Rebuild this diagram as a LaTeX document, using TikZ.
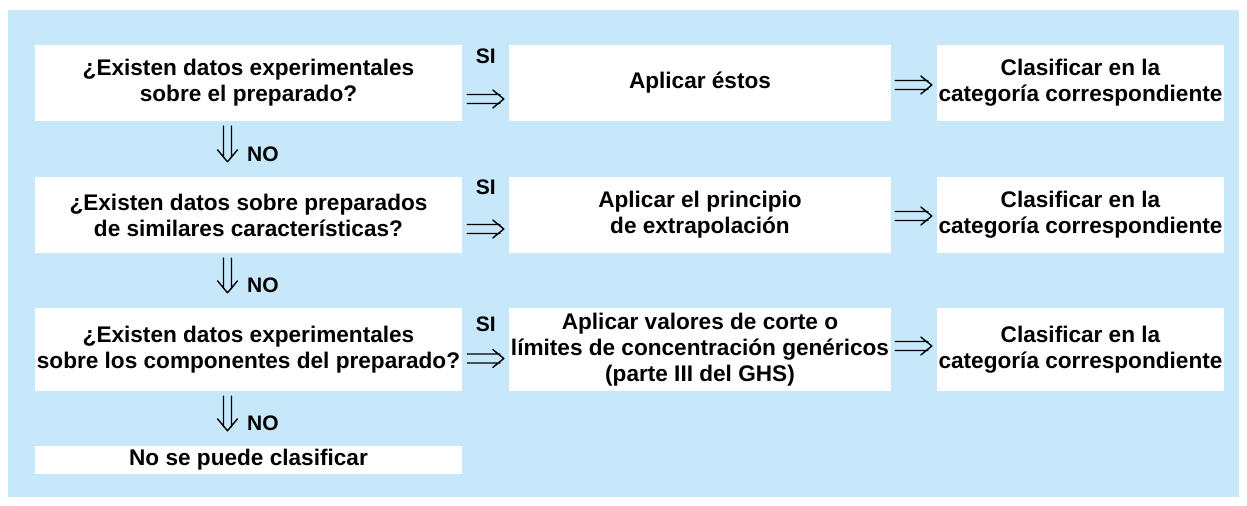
\documentclass[tikz,border=0pt]{standalone}
\usepackage{fontspec}
\setmainfont{Liberation Sans}
\usetikzlibrary{calc}
\definecolor{bgblue}{RGB}{198,232,250}
\tikzset{
  box/.style={fill=white, draw=none, inner sep=0pt, align=center,
    font=\bfseries\fontsize{22.6bp}{26bp}\selectfont},
  lbl/.style={inner sep=0pt, font=\bfseries\fontsize{21bp}{24bp}\selectfont},
  hdbl/.style={line width=1.4bp, line cap=round, line join=round,
    to path={($(\tikztostart)+(0,-4.5bp)$) -- ($(\tikztotarget)+(-4bp,-4.5bp)$)
             ($(\tikztostart)+(0,4.5bp)$) -- ($(\tikztotarget)+(-4bp,4.5bp)$)
             ($(\tikztotarget)+(-11bp,9bp)$) -- (\tikztotarget) -- ($(\tikztotarget)+(-11bp,-9bp)$)}},
  vdbl/.style={line width=1.4bp, line cap=round, line join=round,
    to path={($(\tikztostart)+(-4bp,0)$) -- ($(\tikztotarget)+(-4bp,4bp)$)
             ($(\tikztostart)+(4bp,0)$) -- ($(\tikztotarget)+(4bp,4bp)$)
             ($(\tikztotarget)+(-10bp,12bp)$) -- (\tikztotarget) -- ($(\tikztotarget)+(10bp,12bp)$)}}
}
\begin{document}
\begin{tikzpicture}[x=1bp,y=-1bp]
\useasboundingbox (0,0) rectangle (1247,506);
\fill[bgblue] (8,10) rectangle (1239,497);
% left column
\node[box, minimum width=427bp, minimum height=76bp] (L1) at (248.5,83) {¿Existen datos experimentales\\sobre el preparado?};
\node[box, minimum width=427bp, minimum height=76bp] (L2) at (248.5,215) {¿Existen datos sobre preparados\\de similares características?};
\node[box, minimum width=427bp, minimum height=83bp] (L3) at (248.5,349.5) {¿Existen datos experimentales\\sobre los componentes del preparado?};
\node[box, minimum width=427bp, minimum height=28bp] (L4) at (248.5,460) {No se puede clasificar};
% middle column
\node[box, minimum width=382bp, minimum height=76bp] (M1) at (700,83) {Aplicar éstos};
\node[box, minimum width=382bp, minimum height=76bp] (M2) at (700,215) {Aplicar el principio\\de extrapolación};
\node[box, minimum width=382bp, minimum height=83bp] (M3) at (700,349.5) {Aplicar valores de corte o\\límites de concentración genéricos\\(parte III del GHS)};
% right column
\node[box, minimum width=287bp, minimum height=76bp] (R1) at (1080.5,83) {Clasificar en la\\categoría correspondiente};
\node[box, minimum width=287bp, minimum height=76bp] (R2) at (1080.5,215) {Clasificar en la\\categoría correspondiente};
\node[box, minimum width=287bp, minimum height=83bp] (R3) at (1080.5,349.5) {Clasificar en la\\categoría correspondiente};
% SI labels
\node[lbl, anchor=base] (si1) at ([xshift=23.5bp,yshift=-19bp]L1.north east) {SI};
\node[lbl, anchor=base] (si2) at ([xshift=23.5bp,yshift=-18bp]L2.north east) {SI};
\node[lbl, anchor=base] (si3) at ([xshift=23.5bp,yshift=-24bp]L3.north east) {SI};
% NO labels
\node[lbl, anchor=base west] (no1) at ([xshift=-1.5bp,yshift=15bp]L2.north) {NO};
\node[lbl, anchor=base west] (no2) at ([xshift=-1.5bp,yshift=15bp]L3.north) {NO};
\node[lbl, anchor=base west] (no3) at ([xshift=-1.5bp,yshift=15bp]L4.north) {NO};
% horizontal arrows
\draw[hdbl] ([xshift=5bp,yshift=-16bp]L1.east) to ([xshift=-5bp,yshift=-16bp]M1.west);
\draw[hdbl] ([xshift=4bp,yshift=-2bp]M1.east) to ([xshift=-5bp,yshift=-2bp]R1.west);
\draw[hdbl] ([xshift=5bp,yshift=-14bp]L2.east) to ([xshift=-5bp,yshift=-14bp]M2.west);
\draw[hdbl] ([xshift=4bp,yshift=-1bp]M2.east) to ([xshift=-5bp,yshift=-1bp]R2.west);
\draw[hdbl] ([xshift=5bp,yshift=-9bp]L3.east) to ([xshift=-5bp,yshift=-9bp]M3.west);
\draw[hdbl] ([xshift=4bp,yshift=3.5bp]M3.east) to ([xshift=-5bp,yshift=3.5bp]R3.west);
% vertical arrows
\draw[vdbl] ([xshift=-21bp,yshift=-5bp]L1.south) to ([xshift=-21bp,yshift=15bp]L2.north);
\draw[vdbl] ([xshift=-21bp,yshift=-5bp]L2.south) to ([xshift=-21bp,yshift=15bp]L3.north);
\draw[vdbl] ([xshift=-21bp,yshift=-5bp]L3.south) to ([xshift=-21bp,yshift=15bp]L4.north);
\end{tikzpicture}
\end{document}
